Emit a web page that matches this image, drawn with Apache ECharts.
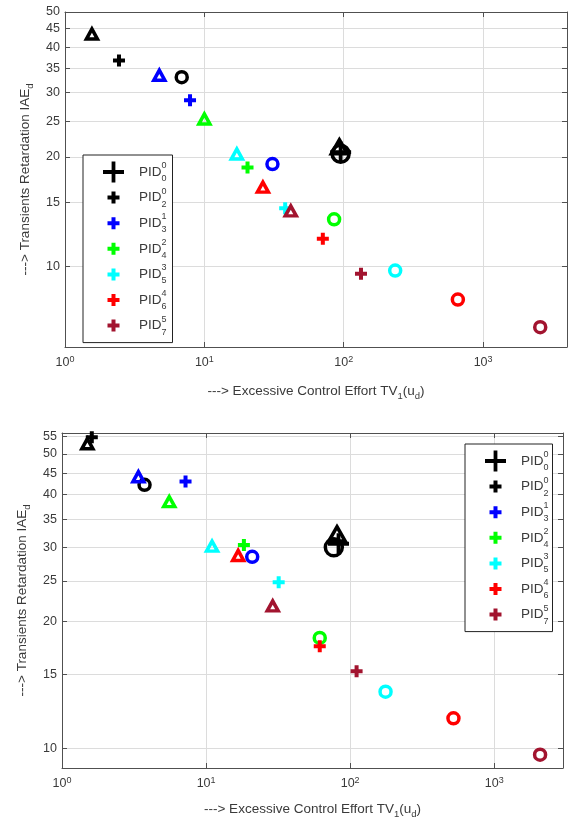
<!DOCTYPE html>
<html>
<head>
<meta charset="utf-8">
<script src="https://cdn.jsdelivr.net/npm/echarts@6/dist/echarts.min.js"></script>
<style>
  html, body { margin: 0; padding: 0; background: #fff; }
  #chart { width: 570px; height: 822px; }
</style>
</head>
<body>
<div id="chart"></div>
<script>
// Controller labels: PID with superscript / subscript
const pidSup = ['0', '0', '1', '2', '3', '4', '5'];
const pidSub = ['0', '2', '3', '4', '5', '6', '7'];
const pidColors = ['#000000', '#000000', '#0000ff', '#00ff00', '#00ffff', '#ff0000', '#a2142f'];

// Tick values
const xTicks = [1, 10, 100, 1000];
const topYTicks = [10, 15, 20, 25, 30, 35, 40, 45, 50];
const botYTicks = [10, 15, 20, 25, 30, 35, 40, 45, 50, 55];

// Upper panel: TV1(ud) vs IAEd, one entry per controller
const topTriX  = [93, 1.56, 4.75, 10.0, 17.1, 26.3, 41.7];
const topTriY  = [21.3, 43.5, 33.5, 25.4, 20.35, 16.5, 14.2];
const topPlusX = [95, 2.44, 7.89, 20.4, 38.0, 70.8, 133];
const topPlusY = [20.6, 36.8, 28.6, 18.7, 14.45, 11.9, 9.54];
const topCircX = [95, 6.88, 30.8, 85.3, 234, 659, 2570];
const topCircY = [20.4, 33.1, 19.1, 13.46, 9.73, 8.1, 6.8];

// Lower panel
const botTriX  = [81, 1.50, 3.39, 5.55, 11.0, 16.7, 29.0];
const botTriY  = [32.3, 52.8, 44.1, 38.5, 30.2, 28.7, 21.8];
const botPlusX = [83, 1.61, 7.2, 18.3, 31.9, 61.5, 110.8];
const botPlusY = [30.6, 54.7, 43.0, 30.4, 24.8, 17.5, 15.25];
const botCircX = [77, 3.74, 20.9, 61.5, 176, 521, 2080];
const botCircY = [30.0, 42.2, 28.5, 18.3, 13.65, 11.8, 9.68];

const BIG_CROSS = 'path://M8.2,0H11.8V8.2H20V11.8H11.8V20H8.2V11.8H0V8.2H8.2Z';
const SMALL_CROSS = 'path://M4,0H8V4H12V8H8V12H4V8H0V4H4Z';
// same cross, inside a wider box so the legend draws it smaller
const SMALL_CROSS_ICON = 'path://M-4.5,-4.5M16.5,16.5M4,0H8V4H12V8H8V12H4V8H0V4H4Z';

const FONT = 'Liberation Sans, Arial, sans-serif';
const TXT = '#3a3a3a';

const pidName = i => 'PID^' + pidSup[i] + '_' + pidSub[i];

function buildSeries(g, triX, triY, plusX, plusY, circX, circY) {
  return pidSup.map((_, i) => {
    const c = pidColors[i];
    const big = i === 0;
    const hollow = { color: 'rgba(0,0,0,0)', borderColor: c, borderWidth: 3.5, opacity: 1 };
    return {
      type: 'scatter',
      name: pidName(i),
      xAxisIndex: g * 2,
      yAxisIndex: g * 2,
      symbol: big ? BIG_CROSS : SMALL_CROSS,
      symbolSize: big ? 21 : 12,
      itemStyle: { color: c, opacity: 1 },
      emphasis: { disabled: true },
      z: 3,
      data: [
        { value: [triX[i], triY[i]], symbol: 'triangle', symbolSize: big ? [16, 14] : [11, 10], itemStyle: hollow },
        { value: [plusX[i], plusY[i]] },
        { value: [circX[i], circY[i]], symbol: 'circle', symbolSize: big ? 17 : 11, itemStyle: hollow }
      ]
    };
  });
}

function xAxes(g, max, gap) {
  const common = {
    type: 'log', logBase: 10, min: 1, max: max, gridIndex: g,
    axisLine: { show: true, lineStyle: { color: '#505050', width: 1 } },
    axisTick: { show: true, inside: true, length: 5, customValues: xTicks, lineStyle: { color: '#505050' } },
    minorTick: { show: false }, minorSplitLine: { show: false }
  };
  return [
    Object.assign({}, common, {
      position: 'bottom',
      axisLabel: {
        customValues: xTicks, margin: 8, color: TXT, fontFamily: FONT, fontSize: 12,
        formatter: v => '{b|10}{s|' + Math.round(Math.log10(v)) + '}',
        rich: {
          b: { fontSize: 12.5, color: TXT, fontFamily: FONT, lineHeight: 16 },
          s: { fontSize: 9, color: TXT, fontFamily: FONT, verticalAlign: 'top', lineHeight: 9 }
        }
      },
      splitLine: { show: true, lineStyle: { color: '#dcdcdc', width: 1 } },
      name: '---> Excessive Control Effort TV{d|1}(u{d|d})',
      nameLocation: 'middle',
      nameGap: gap,
      nameTextStyle: {
        fontSize: 13.5, color: TXT, fontFamily: FONT, lineHeight: 20,
        rich: { d: { fontSize: 9.5, color: TXT, fontFamily: FONT, verticalAlign: 'bottom', lineHeight: 9 } }
      }
    }),
    Object.assign({}, common, {
      position: 'top',
      axisLabel: { show: false },
      splitLine: { show: false }
    })
  ];
}

function yAxes(g, min, max, ticks, gap) {
  const common = {
    type: 'log', logBase: 10, min: min, max: max, gridIndex: g,
    axisLine: { show: true, lineStyle: { color: '#505050', width: 1 } },
    axisTick: { show: true, inside: true, length: 5, customValues: ticks, lineStyle: { color: '#505050' } },
    minorTick: { show: false }, minorSplitLine: { show: false }
  };
  return [
    Object.assign({}, common, {
      position: 'left',
      axisLabel: { customValues: ticks, margin: 5, color: TXT, fontFamily: FONT, fontSize: 12.5 },
      splitLine: { show: true, lineStyle: { color: '#dcdcdc', width: 1 } },
      name: '---> Transients Retardation IAE{d|d}',
      nameLocation: 'middle',
      nameGap: gap,
      nameRotate: 90,
      nameTextStyle: {
        fontSize: 13.5, color: TXT, fontFamily: FONT, lineHeight: 20,
        rich: { d: { fontSize: 9.5, color: TXT, fontFamily: FONT, verticalAlign: 'bottom', lineHeight: 9 } }
      }
    }),
    Object.assign({}, common, {
      position: 'right',
      axisLabel: { show: false },
      splitLine: { show: false }
    })
  ];
}

function legend(left, top, padding) {
  return {
    orient: 'vertical',
    left: left, top: top,
    padding: padding,
    itemGap: 3.6,
    itemWidth: 21, itemHeight: 21,
    backgroundColor: '#fff',
    borderColor: '#222', borderWidth: 1,
    selectedMode: false,
    data: pidSup.map((_, i) => ({ name: pidName(i), icon: i === 0 ? BIG_CROSS : SMALL_CROSS_ICON })),
    formatter: name => {
      const m = name.match(/\^(\d+)_(\d+)/);
      return '{g|}{p|PID}{u|' + m[1] + '}{l|' + m[2] + '}';
    },
    textStyle: {
      fontFamily: FONT, color: TXT, fontSize: 13,
      rich: {
        g: { width: 10, lineHeight: 22 },
        p: { fontSize: 13.5, fontFamily: FONT, color: TXT, lineHeight: 22 },
        u: { fontSize: 9, fontFamily: FONT, color: TXT, verticalAlign: 'top', lineHeight: 10, width: 0 },
        l: { fontSize: 9, fontFamily: FONT, color: TXT, verticalAlign: 'bottom', lineHeight: 10 }
      }
    }
  };
}

const chart = echarts.init(document.getElementById('chart'), null, { renderer: 'canvas' });
chart.setOption({
  animation: false,
  backgroundColor: '#fff',
  grid: [
    { left: 65, top: 12, right: 3, bottom: 475 },
    { left: 62, top: 433, right: 7, bottom: 54 }
  ],
  xAxis: [].concat(xAxes(0, 4000, 34), xAxes(1, 3000, 31)),
  yAxis: [].concat(yAxes(0, 6, 50, topYTicks, 30), yAxes(1, 9, 56, botYTicks, 30)),
  legend: [
    legend(83, 155, [6, 6, 6, 20]),
    legend(465, 444, [6, 4, 6, 20])
  ],
  series: [].concat(
    buildSeries(0, topTriX, topTriY, topPlusX, topPlusY, topCircX, topCircY),
    buildSeries(1, botTriX, botTriY, botPlusX, botPlusY, botCircX, botCircY)
  )
});
</script>
</body>
</html>
